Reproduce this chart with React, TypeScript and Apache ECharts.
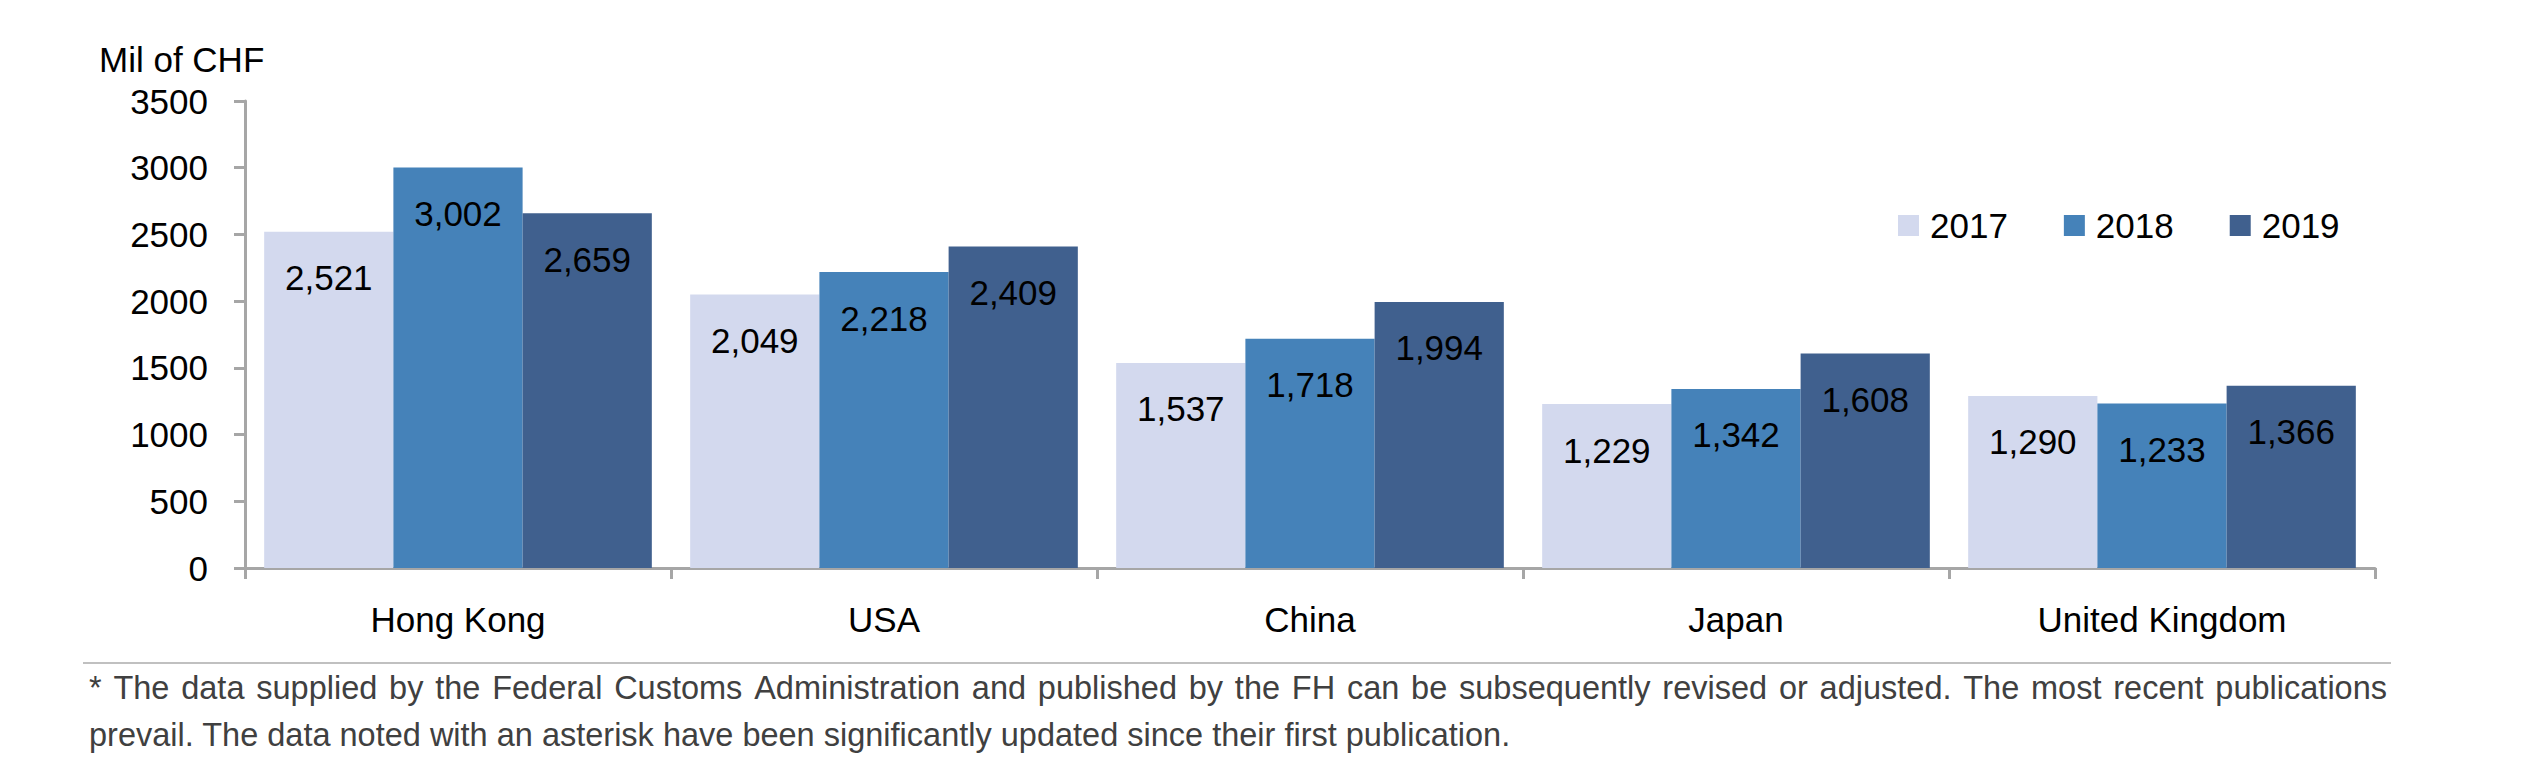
import React, { useEffect, useRef } from "react";
import * as echarts from "echarts";

const categories = ["Hong Kong", "USA", "China", "Japan", "United Kingdom"];
const seriesNames = ["2017", "2018", "2019"];
const values2017 = [2521, 2049, 1537, 1229, 1290];
const values2018 = [3002, 2218, 1718, 1342, 1233];
const values2019 = [2659, 2409, 1994, 1608, 1366];
const seriesColors = ["#D3D9EE", "#4582B9", "#40608E"];
const yMax = 3500;
const yInterval = 500;
const unitLabel = "Mil of CHF";
const footnoteLine1 =
  "* The data supplied by the Federal Customs Administration and published by the FH can be subsequently revised or adjusted. The most recent publications";
const footnoteLine2 =
  "prevail. The data noted with an asterisk have been significantly updated since their first publication.";

const FONT = '"Liberation Sans", Arial, sans-serif';

export default function App() {
  const ref = useRef<HTMLDivElement>(null);

  useEffect(() => {
    if (!ref.current) return;
    const chart = echarts.init(ref.current, null, { renderer: "svg" });

    // justify first footnote line
    const fnSize = 32.5;
    const fnLeft = 89;
    const fnRight = 2387;
    const canvas = document.createElement("canvas");
    const ctx = canvas.getContext("2d")!;
    ctx.font = `${fnSize}px "Liberation Sans"`;
    const words = footnoteLine1.split(" ");
    const widths = words.map((w) => ctx.measureText(w).width);
    const total = widths.reduce((a, b) => a + b, 0);
    const natSpace = ctx.measureText(" ").width;
    let space = (fnRight - fnLeft - total) / (words.length - 1);
    if (space < natSpace * 0.6) space = natSpace;
    const wordEls: any[] = [];
    let cx = fnLeft;
    words.forEach((w, i) => {
      wordEls.push({
        type: "text",
        x: cx,
        y: 687.5,
        silent: true,
        style: {
          text: w,
          fill: "#404040",
          fontSize: fnSize,
          fontFamily: FONT,
          verticalAlign: "middle",
          align: "left",
        },
      });
      cx += widths[i] + space;
    });

    const labelCfg = {
      show: true,
      position: ["50%", 46] as any,
      align: "center",
      verticalAlign: "middle",
      color: "#000000",
      fontSize: 35,
      fontFamily: FONT,
      formatter: (p: any) => Number(p.value).toLocaleString("en-US"),
    };

    const data = [values2017, values2018, values2019];

    chart.setOption({
      animation: false,
      backgroundColor: "#ffffff",
      textStyle: { fontFamily: FONT },
      grid: { left: 245, right: 149, top: 101, bottom: 215, containLabel: false },
      legend: {
        data: seriesNames,
        left: 1893,
        top: 203,
        icon: "rect",
        itemWidth: 21,
        itemHeight: 21,
        itemGap: 56,
        textStyle: {
          fontSize: 35,
          fontFamily: FONT,
          color: "#000000",
          padding: [0, 0, 0, 6],
        },
      },
      xAxis: {
        type: "category",
        data: categories,
        axisLine: { show: true, lineStyle: { color: "#A6A6A6", width: 3 } },
        axisTick: { show: true, length: 11, lineStyle: { color: "#A6A6A6", width: 3 } },
        axisLabel: {
          fontSize: 35,
          fontFamily: FONT,
          color: "#000000",
          margin: 34,
        },
        splitLine: { show: false },
      },
      yAxis: {
        type: "value",
        min: 0,
        max: yMax,
        interval: yInterval,
        axisLine: { show: true, lineStyle: { color: "#A6A6A6", width: 3 } },
        axisTick: { show: true, length: 11, lineStyle: { color: "#A6A6A6", width: 3 } },
        axisLabel: {
          fontSize: 35,
          fontFamily: FONT,
          color: "#000000",
          margin: 37,
          formatter: (v: number) => String(v),
        },
        splitLine: { show: false },
      },
      series: seriesNames.map((name, i) => ({
        name,
        type: "bar",
        data: data[i],
        barGap: "0%",
        barCategoryGap: "9%",
        itemStyle: { color: seriesColors[i] },
        label: labelCfg,
      })),
      graphic: [
        {
          type: "text",
          x: 99,
          y: 59.5,
          silent: true,
          style: {
            text: unitLabel,
            fill: "#000000",
            fontSize: 35,
            fontFamily: FONT,
            verticalAlign: "middle",
            align: "left",
          },
        },
        {
          type: "line",
          silent: true,
          shape: { x1: 83, y1: 663, x2: 2391, y2: 663 },
          style: { stroke: "#C0C0C0", lineWidth: 2 },
        },
        ...wordEls,
        {
          type: "text",
          x: fnLeft,
          y: 734.5,
          silent: true,
          style: {
            text: footnoteLine2,
            fill: "#404040",
            fontSize: fnSize,
            fontFamily: FONT,
            verticalAlign: "middle",
            align: "left",
          },
        },
      ],
    });

    return () => {
      chart.dispose();
    };
  }, []);

  return (
    <div
      ref={ref}
      style={{ position: "fixed", left: 0, top: 0, width: 2524, height: 783 }}
    />
  );
}
